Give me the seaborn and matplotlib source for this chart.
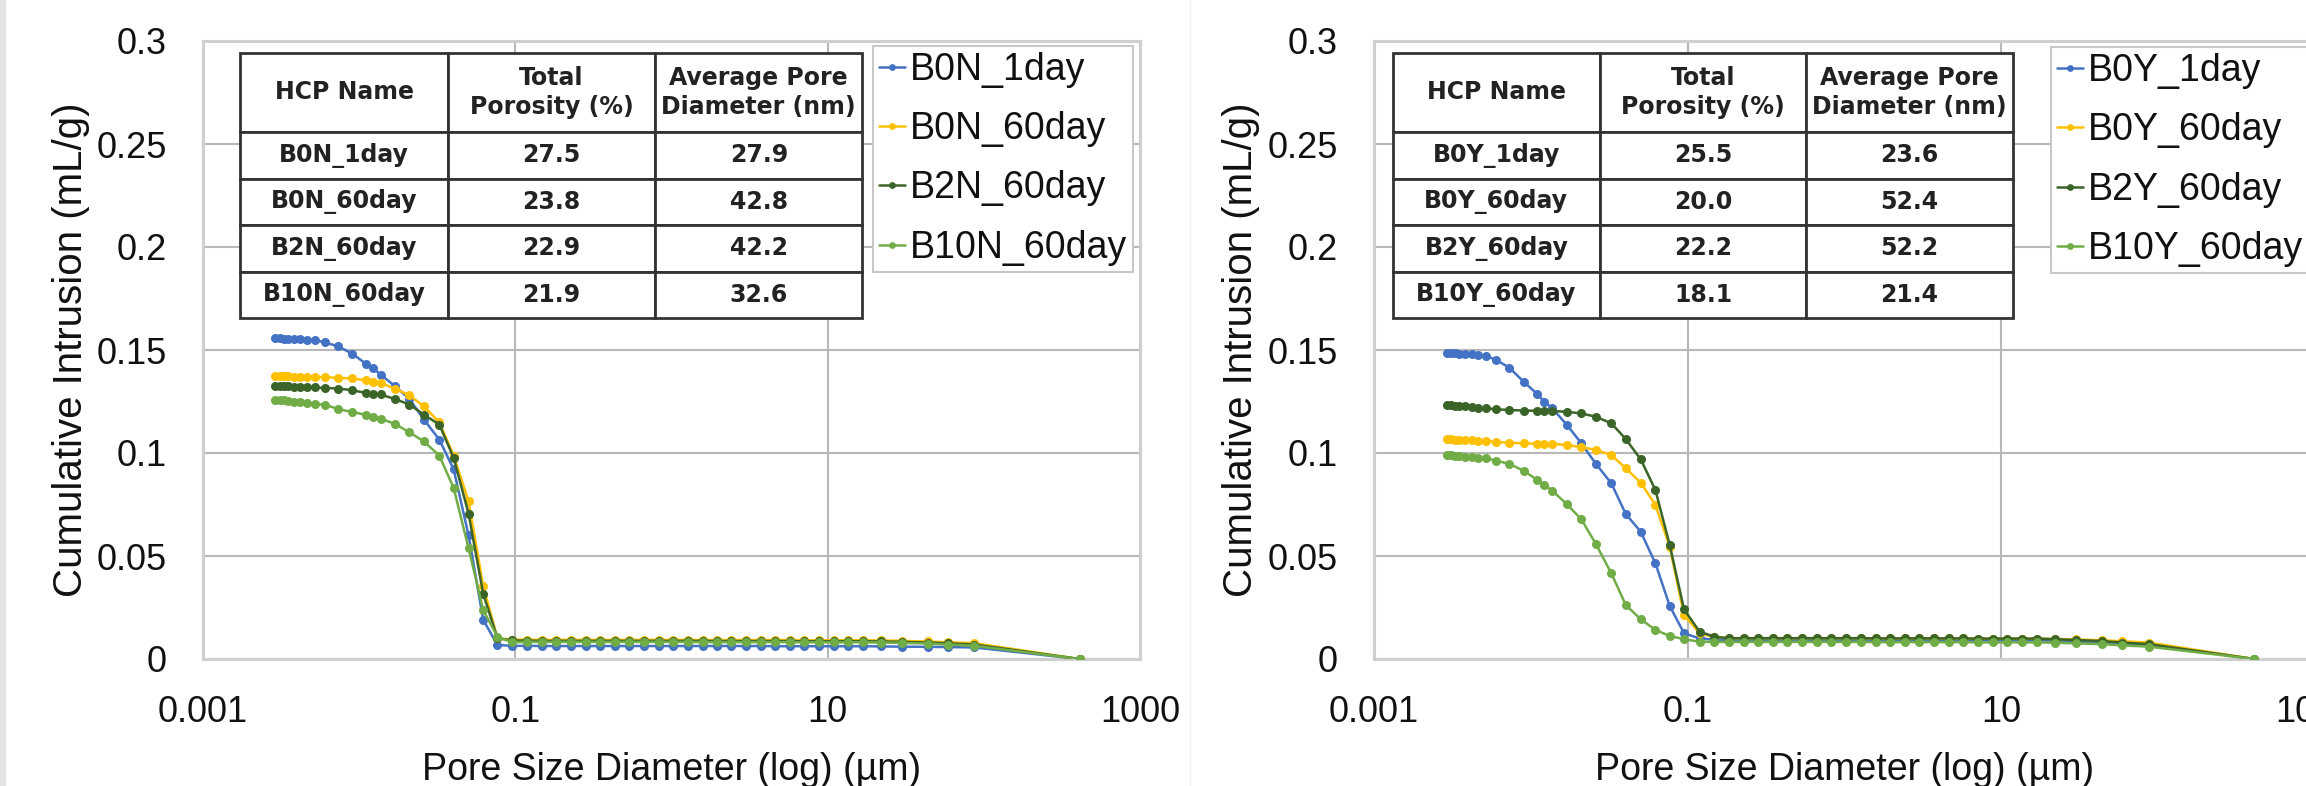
import numpy as np
import pandas as pd
import matplotlib
matplotlib.use("Agg")
import matplotlib.pyplot as plt
from matplotlib.ticker import NullLocator
from matplotlib.patches import Rectangle
import seaborn as sns

# ---- data -------------------------------------------------------------
# pore diameters (µm) of the mercury intrusion steps, shared by all runs
diameter_um = [
    0.0029, 0.0031, 0.0033, 0.0035, 0.0038, 0.0042, 0.0046,
    0.0052, 0.0060, 0.0073, 0.0090, 0.0110, 0.0122, 0.0137, 0.0170,
    0.0210, 0.0260, 0.0326, 0.0403, 0.0502, 0.0623, 0.0768, 0.0948,
    0.119, 0.148, 0.183, 0.227, 0.282, 0.349, 0.433, 0.537, 0.666, 0.826,
    1.02, 1.27, 1.58, 1.95, 2.42, 3.00, 3.73, 4.62, 5.73, 7.10, 8.80,
    10.9, 13.5, 16.8,
    22.0, 30.0, 44.0, 59.0, 87.0, 410.0,
]

# cumulative intrusion (mL/g), N series
b0n_1day = [
    0.1556, 0.1556, 0.1555, 0.1555, 0.1554, 0.1552, 0.1550,
    0.1548, 0.1538, 0.1518, 0.1483, 0.1434, 0.1413, 0.1381, 0.1324,
    0.1262, 0.1162, 0.1065, 0.0920, 0.0600, 0.0190, 0.0068, 0.0064,
    0.0064, 0.0063, 0.0063, 0.0063, 0.0063, 0.0063, 0.0063, 0.0063, 0.0063, 0.0063,
    0.0063, 0.0063, 0.0063, 0.0063, 0.0063, 0.0063, 0.0063, 0.0062, 0.0062, 0.0062, 0.0062,
    0.0062, 0.0062, 0.0062,
    0.0061, 0.0060, 0.0059, 0.0058, 0.0056, 0.0,
]
b0n_60day = [
    0.1373, 0.1373, 0.1372, 0.1372, 0.1371, 0.1370, 0.1370,
    0.1369, 0.1368, 0.1365, 0.1362, 0.1353, 0.1347, 0.1340, 0.1312,
    0.1280, 0.1226, 0.1149, 0.0987, 0.0765, 0.0352, 0.0101, 0.0094,
    0.0094, 0.0093, 0.0093, 0.0093, 0.0093, 0.0093, 0.0093, 0.0093, 0.0093, 0.0093,
    0.0093, 0.0093, 0.0092, 0.0092, 0.0092, 0.0092, 0.0092, 0.0092, 0.0092, 0.0091, 0.0091,
    0.0091, 0.0091, 0.0091,
    0.0090, 0.0088, 0.0085, 0.0081, 0.0077, 0.0,
]
b2n_60day = [
    0.1324, 0.1324, 0.1323, 0.1323, 0.1322, 0.1321, 0.1320,
    0.1318, 0.1316, 0.1313, 0.1305, 0.1292, 0.1288, 0.1284, 0.1262,
    0.1235, 0.1186, 0.1138, 0.0976, 0.0705, 0.0316, 0.0101, 0.0090,
    0.0089, 0.0088, 0.0088, 0.0088, 0.0088, 0.0088, 0.0088, 0.0088, 0.0088, 0.0088,
    0.0088, 0.0088, 0.0088, 0.0087, 0.0087, 0.0087, 0.0087, 0.0087, 0.0087, 0.0086, 0.0086,
    0.0086, 0.0086, 0.0086,
    0.0085, 0.0083, 0.0080, 0.0076, 0.0070, 0.0,
]
b10n_60day = [
    0.1259, 0.1258, 0.1256, 0.1253, 0.1250, 0.1246, 0.1242,
    0.1238, 0.1235, 0.1214, 0.1199, 0.1186, 0.1177, 0.1167, 0.1141,
    0.1100, 0.1056, 0.0987, 0.0830, 0.0537, 0.0237, 0.0108, 0.0082,
    0.0083, 0.0083, 0.0083, 0.0083, 0.0083, 0.0083, 0.0083, 0.0083, 0.0083, 0.0083,
    0.0083, 0.0083, 0.0082, 0.0082, 0.0082, 0.0082, 0.0082, 0.0082, 0.0082, 0.0081, 0.0081,
    0.0081, 0.0081, 0.0081,
    0.0080, 0.0078, 0.0075, 0.0070, 0.0064, 0.0,
]

# cumulative intrusion (mL/g), Y series
b0y_1day = [
    0.1484, 0.1484, 0.1484, 0.1483, 0.1483, 0.1482, 0.1478,
    0.1471, 0.1452, 0.1414, 0.1346, 0.1286, 0.1249, 0.1217, 0.1136,
    0.1047, 0.0947, 0.0853, 0.0704, 0.0618, 0.0464, 0.0258, 0.0125,
    0.0100, 0.0094, 0.0092, 0.0092, 0.0092, 0.0092, 0.0092, 0.0092, 0.0092, 0.0092,
    0.0092, 0.0092, 0.0091, 0.0091, 0.0091, 0.0091, 0.0091, 0.0091, 0.0091, 0.0090, 0.0090,
    0.0090, 0.0090, 0.0090,
    0.0088, 0.0085, 0.0081, 0.0076, 0.0070, 0.0,
]
b0y_60day = [
    0.1066, 0.1066, 0.1065, 0.1064, 0.1063, 0.1061, 0.1060,
    0.1058, 0.1053, 0.1050, 0.1047, 0.1045, 0.1044, 0.1044, 0.1039,
    0.1028, 0.1015, 0.0990, 0.0926, 0.0856, 0.0748, 0.0545, 0.0214,
    0.0125, 0.0106, 0.0101, 0.0101, 0.0101, 0.0101, 0.0101, 0.0101, 0.0101, 0.0101,
    0.0101, 0.0101, 0.0100, 0.0100, 0.0100, 0.0100, 0.0100, 0.0100, 0.0100, 0.0099, 0.0099,
    0.0099, 0.0099, 0.0099,
    0.0097, 0.0095, 0.0091, 0.0086, 0.0080, 0.0,
]
b2y_60day = [
    0.1233, 0.1232, 0.1230, 0.1228, 0.1226, 0.1222, 0.1219,
    0.1217, 0.1212, 0.1209, 0.1206, 0.1205, 0.1204, 0.1204, 0.1200,
    0.1192, 0.1176, 0.1144, 0.1068, 0.0969, 0.0820, 0.0554, 0.0241,
    0.0133, 0.0108, 0.0101, 0.0101, 0.0101, 0.0101, 0.0101, 0.0101, 0.0101, 0.0101,
    0.0101, 0.0101, 0.0100, 0.0100, 0.0100, 0.0100, 0.0100, 0.0100, 0.0100, 0.0099, 0.0099,
    0.0099, 0.0099, 0.0099,
    0.0096, 0.0092, 0.0087, 0.0080, 0.0072, 0.0,
]
b10y_60day = [
    0.0990, 0.0989, 0.0987, 0.0985, 0.0982, 0.0979, 0.0976,
    0.0974, 0.0963, 0.0947, 0.0914, 0.0869, 0.0845, 0.0817, 0.0751,
    0.0678, 0.0558, 0.0416, 0.0262, 0.0193, 0.0141, 0.0112, 0.0096,
    0.0084, 0.0083, 0.0083, 0.0083, 0.0083, 0.0083, 0.0083, 0.0083, 0.0083, 0.0083,
    0.0083, 0.0083, 0.0082, 0.0082, 0.0082, 0.0082, 0.0082, 0.0082, 0.0082, 0.0081, 0.0081,
    0.0081, 0.0081, 0.0081,
    0.0079, 0.0076, 0.0072, 0.0066, 0.0060, 0.0,
]

names_n = ["B0N_1day", "B0N_60day", "B2N_60day", "B10N_60day"]
names_y = ["B0Y_1day", "B0Y_60day", "B2Y_60day", "B10Y_60day"]
porosity_n = ["27.5", "23.8", "22.9", "21.9"]
porosity_y = ["25.5", "20.0", "22.2", "18.1"]
avg_pore_n = ["27.9", "42.8", "42.2", "32.6"]
avg_pore_y = ["23.6", "52.4", "52.2", "21.4"]
table_header = ["HCP Name", "Total\nPorosity (%)", "Average Pore\nDiameter (nm)"]

x_ticks = [0.001, 0.1, 10, 1000]
x_tick_labels = ["0.001", "0.1", "10", "1000"]
y_ticks = [0, 0.05, 0.1, 0.15, 0.2, 0.25, 0.3]
y_tick_labels = ["0", "0.05", "0.1", "0.15", "0.2", "0.25", "0.3"]

series_colors = ["#4472C4", "#FFC000", "#3A6428", "#70AD47"]

# ---- style --------------------------------------------------------------
sns.set_style("white")
plt.rcParams["font.family"] = ["Liberation Sans", "DejaVu Sans"]

W, H = 2306, 786
fig = plt.figure(figsize=(W / 100, H / 100), dpi=100)
fig.patch.set_facecolor("white")
fig.patches.append(Rectangle((0, 0), 5 / W, 1, transform=fig.transFigure,
                             color="#e4e4e4", zorder=0))

ax_n = fig.add_axes([203 / W, 1 - 659 / H, 937 / W, 618 / H])
ax_y = fig.add_axes([1374 / W, 1 - 659 / H, 941 / W, 618 / H])


def long_frame(names, series):
    rows = []
    for name, vals in zip(names, series):
        assert len(vals) == len(diameter_um), name
        rows.append(pd.DataFrame({"diameter": diameter_um,
                                  "intrusion": vals,
                                  "sample": name}))
    return pd.concat(rows, ignore_index=True)


def draw_panel(ax, names, series, porosity, avg_pore, table_x0, table_w,
               legend_loc, legend_anchor):
    df = long_frame(names, series)
    sns.lineplot(data=df, x="diameter", y="intrusion", hue="sample",
                 hue_order=names, palette=series_colors, estimator=None,
                 sort=False, marker="o", markersize=6.5, markeredgewidth=0,
                 linewidth=1.8, ax=ax, legend=False, zorder=3)
    ax.set_xscale("log")
    ax.set_xlim(1e-3, 1e3)
    ax.set_ylim(0, 0.3)
    ax.set_xticks(x_ticks)
    ax.set_xticklabels(x_tick_labels)
    ax.xaxis.set_minor_locator(NullLocator())
    ax.set_yticks(y_ticks)
    ax.set_yticklabels(y_tick_labels)
    ax.grid(True, which="major", color="#b8b8b8", linewidth=1.5)
    ax.set_axisbelow(True)
    ax.tick_params(length=0, pad=26, labelsize=26, colors="#111111")
    for sp in ax.spines.values():
        sp.set_color("#cfcfcf")
        sp.set_linewidth(2.2)
        sp.set_visible(True)

    ax.set_xlabel("Pore Size Diameter (log) (µm)", fontsize=27, color="#111111")
    ax.xaxis.label.set_va("center")
    ax.xaxis.set_label_coords(0.5, -0.18)
    ax.set_ylabel("Cumulative Intrusion (mL/g)", fontsize=29, color="#111111")
    ax.yaxis.label.set_va("center")
    ax.yaxis.set_label_coords(-0.141, 0.5)

    # summary table
    cells = [[n, p, a] for n, p, a in zip(names, porosity, avg_pore)]
    tbl = ax.table(cellText=cells, colLabels=table_header, cellLoc="center",
                   bbox=[table_x0, 0.5518, table_w, 0.4294], zorder=5)
    tbl.auto_set_font_size(False)
    for (r, c), cell in tbl.get_celld().items():
        cell.set_height(0.30 if r == 0 else 0.175)
        cell.set_width(1.0)
        cell.set_edgecolor("#333333")
        cell.set_linewidth(2.0)
        cell.set_facecolor("white")
        txt = cell.get_text()
        txt.set_fontsize(17)
        txt.set_fontweight("bold")
        txt.set_fontfamily("DejaVu Sans")
        txt.set_color("#222222")
        txt.set_linespacing(1.3)

    handles = ax.get_lines()[:len(names)]
    leg = ax.legend(handles, names, loc=legend_loc, bbox_to_anchor=legend_anchor,
                    fontsize=27, frameon=True, fancybox=False, framealpha=1,
                    edgecolor="#c8c8c8", handlelength=0.7, handletextpad=0.12,
                    borderpad=0.16, labelspacing=0.62, borderaxespad=0,
                    markerscale=0.75)
    leg.get_frame().set_linewidth(1.5)
    leg.set_zorder(6)
    for t in leg.get_texts():
        t.set_color("#111111")


draw_panel(ax_n, names_n, [b0n_1day, b0n_60day, b2n_60day, b10n_60day],
           porosity_n, avg_pore_n, 0.0400, 0.6638,
           "upper right", (0.992, 0.992))
draw_panel(ax_y, names_y, [b0y_1day, b0y_60day, b2y_60day, b10y_60day],
           porosity_y, avg_pore_y, 0.0202, 0.6588,
           "upper left", (0.7195, 0.990))

fig.add_artist(plt.Line2D([1190 / W, 1190 / W], [0, 1], transform=fig.transFigure,
                          color="#f0f0f0", linewidth=1))

fig.savefig("out.png", dpi=100)
